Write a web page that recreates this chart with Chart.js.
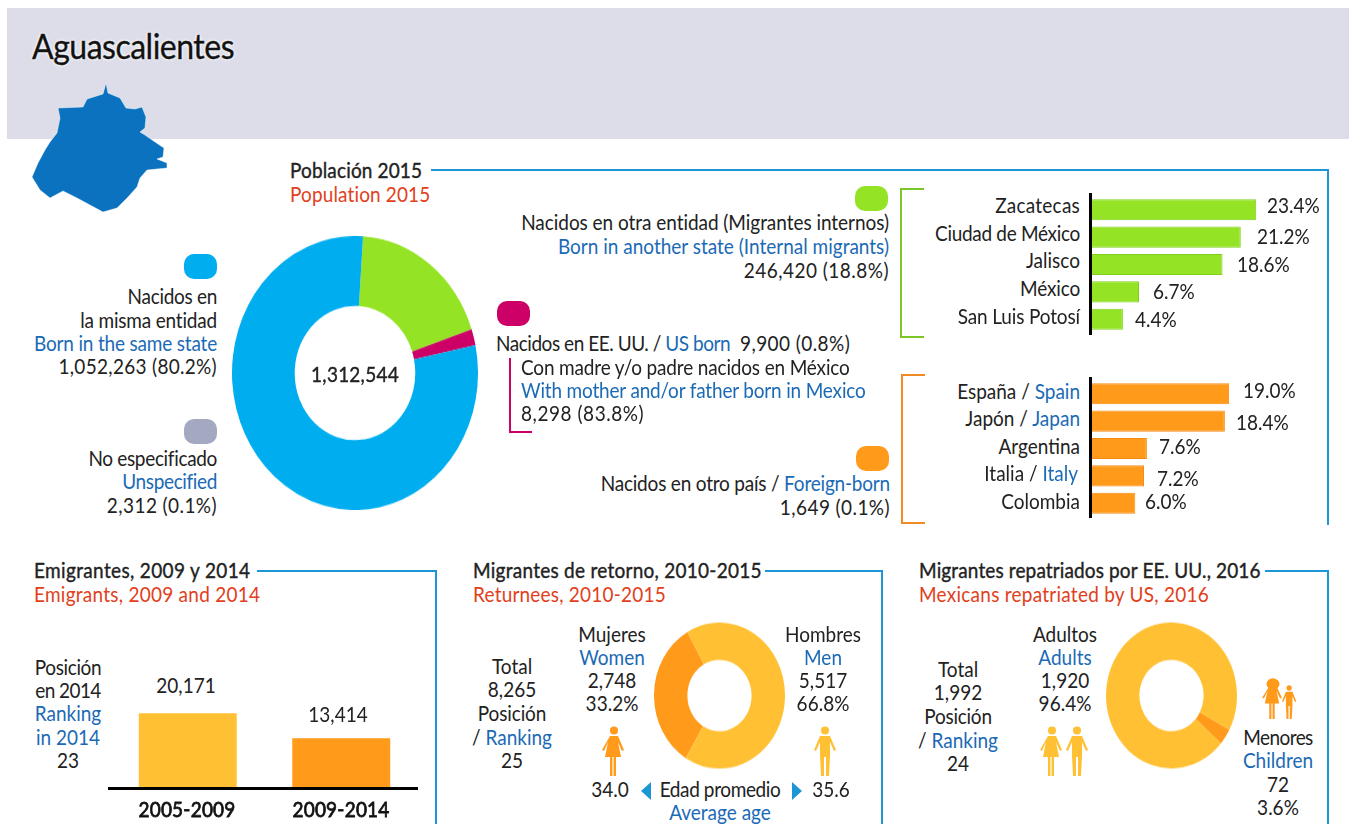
<!DOCTYPE html>
<html>
<head>
  <meta charset="utf-8" />
  <title>Aguascalientes</title>
  <script src="https://cdn.jsdelivr.net/npm/chart.js"></script>
  <style>
    html, body { margin: 0; padding: 0; background: #fff; }
    #stage { position: relative; width: 1349px; height: 824px; overflow: hidden; font-family: Lato, sans-serif; font-size: 19px; color: #222; }
    #band { position: absolute; left: 7px; top: 8px; width: 1342px; height: 131px; background: #dddde9; }
    .t { position: absolute; white-space: pre; line-height: 1; }
    .b { color: #1b6ab5; }
    .r { color: #e2401b; }
    .m { -webkit-text-stroke: .35px #222; }
    .y { -webkit-text-stroke: .7px #111; color: #111; }
    .rule { position: absolute; }
    .pill { position: absolute; width: 33px; height: 25px; border-radius: 10px; }
    canvas { position: absolute; }
    svg { position: absolute; left: 0; top: 0; }
  </style>
</head>
<body>
  <div id="stage">
    <div id="band"></div>
    <svg width="1349" height="824">
      <defs>
        <g id="woman"><circle cx="11" cy="4.5" r="4" /><path d="M7 10h8l6 14-2 1-4-9 3 15h-5v19h-2.400v-19h-1.200v19h-2.400v-19h-5l3-15-4 9-2-1z" /></g>
        <g id="man"><circle cx="11" cy="4.500" r="4" /><path d="M6 10h10l6 14-2 1-4-9v14l-1 20h-3v-19h-2v19h-3l-1-20v-14l-4 9-2-1z" /></g>
      </defs>
      <polygon id="map" fill="#0a72bf" stroke="#fff" stroke-opacity=".45" points="106,83 108,93 120,98 126,108 135,109 142,107 146,117 145,128 140,132 145,135 155,142 164,148 163,157 157,159 167,163 167,168 147,170 140,178 137,187 128,197 117,208 103,212 90,205 77,198 63,191 50,198 40,190 32,177 38,163 45,150 50,142 57,133 60,118 58,108 83,107 87,99 103,94" />
      <use href="#woman" x="603" y="726" fill="#ff9a1a" />
      <use href="#man" x="814" y="726" fill="#ffc033" />
      <use href="#woman" x="1041" y="726" fill="#ffc033" />
      <use href="#man" x="1066" y="726" fill="#ffc033" />
      <ellipse cx="1273" cy="684" rx="6.500" ry="5.500" fill="#ff9a1a" />
      <use href="#woman" transform="translate(1263 678) scale(.9 .82)" fill="#ff9a1a" />
      <use href="#man" transform="translate(1282 685) scale(.65 .68)" fill="#ff9a1a" />
      <polygon points="651,782 651,800 641,791" fill="#1c96d4" />
      <polygon points="792,782 792,800 802,791" fill="#1c96d4" />
    </svg>
  </div>

  <script>
    // values
    const populationLabels = ["Nacidos en otra entidad", "Nacidos en EE. UU.", "Nacidos en la misma entidad"];
    // slice widths as drawn: the magenta slice is wider than its printed 0.8%
    const populationShares = [18.8, 1.9, 79.3];
    const populationTotal = "1,312,544";

    const stateLabels = ["Zacatecas", "Ciudad de México", "Jalisco", "México", "San Luis Potosí"];
    const stateShares = [23.4, 21.2, 18.6, 6.7, 4.4];

    const countryLabels = ["España / <span class='b'>Spain</span>", "Japón / <span class='b'>Japan</span>", "Argentina", "Italia / <span class='b'>Italy</span>", "Colombia"];
    const countryNames = ["España", "Japón", "Argentina", "Italia", "Colombia"];
    const countryShares = [19.0, 18.4, 7.6, 7.2, 6.0];

    const emigrantPeriods = ["2005-2009", "2009-2014"];
    const emigrantValues = [20171, 13414];

    const returneeLabels = ["Mujeres", "Hombres"];
    const returneeValues = [2748, 5517];

    const repatriatedLabels = ["Menores", "Adultos"];
    const repatriatedValues = [72, 1920];

    const BLUE = '#00aeef', GREEN = '#94e425', MAGENTA = '#cc0066', GREY = '#a4a8c0';
    const YELLOW = '#ffc033', ORANGE = '#ff9a1a', FRAME = '#1c96d4';
    const STRETCH = 1.114; // the reference is stretched vertically

    const stage = document.getElementById('stage');

    // width: optional target width, reached through letter spacing
    function text(x, y, html, anchor, cls, width, size) {
      const el = document.createElement('div');
      el.className = 't ' + (cls || '');
      el.innerHTML = html;
      el.style.left = x + 'px';
      el.style.top = (y - 1) + 'px';
      if (size) el.style.fontSize = size + 'px';
      const tx = anchor === 'r' ? '-100%' : anchor === 'c' ? '-50%' : '0';
      el.style.transform = `translate(${tx}, -50%) scaleY(${STRETCH})`;
      stage.appendChild(el);
      if (width) el.style.letterSpacing = ((width - el.offsetWidth) / el.textContent.length) + 'px';
      return el;
    }

    function rule(x, y, w, h, color) {
      const el = document.createElement('div');
      el.className = 'rule';
      el.style.cssText = `left:${x}px;top:${y}px;width:${w}px;height:${h}px;background:${color}`;
      stage.appendChild(el);
    }

    function pill(x, y, color) {
      const el = document.createElement('div');
      el.className = 'pill';
      el.style.cssText = `left:${x}px;top:${y}px;background:${color}`;
      stage.appendChild(el);
    }

    function addCanvas(x, y, w, h) {
      const c = document.createElement('canvas');
      c.width = w;
      c.height = h;
      c.style.left = x + 'px';
      c.style.top = y + 'px';
      stage.appendChild(c);
      return c;
    }

    function donut(cx, cy, size, labels, values, colors, rotation) {
      const c = addCanvas(cx - size / 2, cy - size / 2, size, size);
      new Chart(c, {
        type: 'doughnut',
        data: { labels: labels, datasets: [{ data: values, backgroundColor: colors, borderWidth: 0 }] },
        options: {
          responsive: false,
          animation: false,
          cutout: '49%',
          rotation: rotation,
          plugins: { legend: { display: false }, tooltip: { enabled: false } }
        }
      });
      c.style.transform = `scaleY(${STRETCH})`;
    }

    function hbars(x, y, w, h, labels, values, color, edge, max) {
      new Chart(addCanvas(x, y, w, h), {
        type: 'bar',
        data: { labels: labels, datasets: [{ data: values, backgroundColor: color, borderColor: edge, borderWidth: 1, barPercentage: 0.77, categoryPercentage: 1 }] },
        options: {
          indexAxis: 'y',
          responsive: false,
          animation: false,
          scales: { x: { display: false, min: 0, max: max }, y: { display: false } },
          plugins: { legend: { display: false }, tooltip: { enabled: false } }
        }
      });
    }

    // donuts
    donut(355, 372.5, 246, populationLabels, populationShares, [GREEN, MAGENTA, BLUE], 3.75);
    donut(719.5, 695, 131, returneeLabels, returneeValues, [ORANGE, YELLOW], 211);
    donut(1171, 695, 131, repatriatedLabels, repatriatedValues, [ORANGE, YELLOW], 118);

    // horizontal bars
    hbars(1092, 196, 200, 137, stateLabels, stateShares, GREEN, '#7fd01e', 28.5);
    hbars(1092, 380, 200, 137, countryNames, countryShares, ORANGE, '#f58a12', 27.7);
    rule(1089, 193, 3, 142, '#000');
    rule(1089, 377, 3, 141, '#000');

    // emigrant columns
    new Chart(addCanvas(111, 699, 307, 89), {
      type: 'bar',
      data: { labels: emigrantPeriods, datasets: [{ data: emigrantValues, backgroundColor: [YELLOW, ORANGE], barPercentage: 0.638, categoryPercentage: 1 }] },
      options: {
        responsive: false,
        animation: false,
        scales: { x: { display: false }, y: { display: false, min: 0, max: 24000 } },
        plugins: { legend: { display: false }, tooltip: { enabled: false } }
      }
    });
    rule(108, 787, 310, 3, '#000');

    // section frames
    rule(431, 169, 898, 2, FRAME);
    rule(1327, 169, 2, 356, FRAME);
    rule(257, 570, 180, 2, FRAME);
    rule(435, 570, 2, 254, FRAME);
    rule(765, 570, 118, 2, FRAME);
    rule(881, 570, 2, 254, FRAME);
    rule(1265, 570, 64, 2, FRAME);
    rule(1327, 570, 2, 254, FRAME);

    // brackets
    rule(900, 188, 24, 2, '#7cc52a');
    rule(900, 188, 2, 150, '#7cc52a');
    rule(900, 336, 24, 2, '#7cc52a');
    rule(901, 374, 24, 2, '#f08a24');
    rule(901, 374, 2, 150, '#f08a24');
    rule(901, 522, 24, 2, '#f08a24');
    rule(509, 358, 2, 75, MAGENTA);
    rule(509, 431, 23, 2, MAGENTA);

    // legend chips
    pill(184, 254, BLUE);
    pill(184, 419, GREY);
    pill(855, 186, GREEN);
    pill(497, 301, MAGENTA);
    pill(856, 446, ORANGE);

    // title and top section
    const title = text(32, 47, 'Aguascalientes', 'l', 'm', 202, 32);
    title.style.color = '#111';
    title.style.textShadow = '0 0 3px #fff, 0 0 3px #fff';
    text(290, 171, 'Población 2015', 'l', 'm', 132);
    text(290, 195, 'Population 2015', 'l', 'r', 141);

    text(217, 297, 'Nacidos en', 'r', '', 89);
    text(217, 321, 'la misma entidad', 'r', '', 137);
    text(217, 344, 'Born in the same state', 'r', 'b', 183);
    text(217, 367, '1,052,263 (80.2%)', 'r', '', 159);
    text(217, 459, 'No especificado', 'r', '', 128);
    text(217, 482, 'Unspecified', 'r', 'b', 94);
    text(217, 506, '2,312 (0.1%)', 'r', '', 110);

    text(355, 375, populationTotal, 'c', 'm', 88);

    text(889, 223, 'Nacidos en otra entidad (Migrantes internos)', 'r', '', 368);
    text(889, 247, 'Born in another state (Internal migrants)', 'r', 'b', 331);
    text(889, 271, '246,420 (18.8%)', 'r', '', 145);
    text(496, 344, "Nacidos en EE. UU. / <span class='b'>US born</span>", 'l', '', 234);
    text(740, 344, '9,900 (0.8%)', 'l', '', 110);
    text(521, 368, 'Con madre y/o padre nacidos en México', 'l', '', 329);
    text(521, 391, 'With mother and/or father born in Mexico', 'l', 'b', 345);
    text(521, 414, '8,298 (83.8%)', 'l', '', 123);
    text(890, 484, "Nacidos en otro país / <span class='b'>Foreign-born</span>", 'r', '', 289);
    text(890, 508, '1,649 (0.1%)', 'r', '', 110);

    // bar labels
    const stateLabelY = [206, 234, 261, 289, 317];
    const stateLabelW = [85, 145, 54, 60, 122];
    const stateValueX = [1267, 1257, 1237, 1153, 1135];
    const stateValueY = [206, 237, 265, 292, 320];
    stateLabels.forEach((s, i) => {
      text(1080, stateLabelY[i], s, 'r', '', stateLabelW[i]);
      text(stateValueX[i], stateValueY[i], stateShares[i].toFixed(1) + '%', 'l');
    });
    const countryLabelY = [392, 419, 447, 474, 502];
    const countryLabelX = [1080, 1080, 1080, 1078, 1080];
    const countryValueX = [1243, 1236, 1159, 1157, 1145];
    const countryValueY = [391, 423, 447, 479, 502];
    countryLabels.forEach((s, i) => {
      text(countryLabelX[i], countryLabelY[i], s, 'r');
      text(countryValueX[i], countryValueY[i], countryShares[i].toFixed(1) + '%', 'l');
    });

    // bottom left
    text(34, 571, 'Emigrantes, 2009 y 2014', 'l', 'm', 216);
    text(34, 595, 'Emigrants, 2009 and 2014', 'l', 'r', 226);
    text(68, 668, 'Posición', 'c', '', 66);
    text(68, 691, 'en 2014', 'c', '', 66);
    text(68, 714, 'Ranking', 'c', 'b');
    text(68, 738, 'in 2014', 'c', 'b');
    text(68, 761, '23', 'c');
    text(186, 686, emigrantValues[0].toLocaleString('en-US'), 'c');
    text(338, 715, emigrantValues[1].toLocaleString('en-US'), 'c');
    text(187, 810, emigrantPeriods[0], 'c', 'y', 97);
    text(341, 810, emigrantPeriods[1], 'c', 'y', 97);

    // bottom middle
    text(473, 571, 'Migrantes de retorno, 2010-2015', 'l', 'm', 289);
    text(473, 595, 'Returnees, 2010-2015', 'l', 'r', 193);
    text(512, 667, 'Total', 'c');
    text(512, 690, '8,265', 'c');
    text(512, 714, 'Posición', 'c', '', 68);
    text(512, 738, "/ <span class='b'>Ranking</span>", 'c');
    text(512, 761, '25', 'c');
    text(612, 635, 'Mujeres', 'c');
    text(612, 658, 'Women', 'c', 'b');
    text(612, 681, returneeValues[0].toLocaleString('en-US'), 'c');
    text(612, 704, '33.2%', 'c');
    text(823, 635, 'Hombres', 'c');
    text(823, 658, 'Men', 'c', 'b');
    text(823, 681, returneeValues[1].toLocaleString('en-US'), 'c');
    text(823, 704, '66.8%', 'c');
    text(610, 790, '34.0', 'c');
    text(720, 790, 'Edad promedio', 'c', '', 121);
    text(720, 813, 'Average age', 'c', 'b');
    text(831, 790, '35.6', 'c');

    // bottom right
    text(919, 571, 'Migrantes repatriados por EE. UU., 2016', 'l', 'm', 342);
    text(919, 595, 'Mexicans repatriated by US, 2016', 'l', 'r', 290);
    text(958, 670, 'Total', 'c');
    text(958, 693, '1,992', 'c');
    text(958, 717, 'Posición', 'c', '', 67);
    text(958, 741, "/ <span class='b'>Ranking</span>", 'c');
    text(958, 764, '24', 'c');
    text(1065, 635, 'Adultos', 'c');
    text(1065, 658, 'Adults', 'c', 'b');
    text(1065, 681, repatriatedValues[1].toLocaleString('en-US'), 'c');
    text(1065, 704, '96.4%', 'c');
    text(1278, 738, 'Menores', 'c', '', 70);
    text(1278, 761, 'Children', 'c', 'b');
    text(1278, 785, String(repatriatedValues[0]), 'c');
    text(1278, 808, '3.6%', 'c');
  </script>
</body>
</html>
